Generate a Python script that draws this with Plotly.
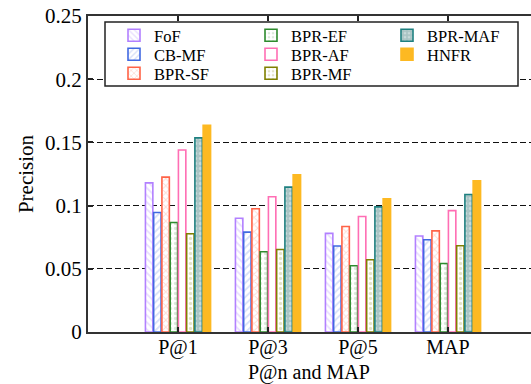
import plotly.graph_objects as go

categories = ["P@1", "P@3", "P@5", "MAP"]
methods = ["FoF", "CB-MF", "BPR-SF", "BPR-EF", "BPR-AF", "BPR-MF", "BPR-MAF", "HNFR"]

fof     = [0.118, 0.090, 0.078, 0.076]
cb_mf   = [0.0945, 0.079, 0.068, 0.073]
bpr_sf  = [0.1225, 0.0975, 0.0835, 0.080]
bpr_ef  = [0.0866, 0.0635, 0.0524, 0.0542]
bpr_af  = [0.144, 0.107, 0.0914, 0.096]
bpr_mf  = [0.0777, 0.0653, 0.0572, 0.0682]
bpr_maf = [0.1536, 0.1146, 0.099, 0.1088]
hnfr    = [0.1636, 0.1244, 0.1054, 0.1196]

series = [fof, cb_mf, bpr_sf, bpr_ef, bpr_af, bpr_mf, bpr_maf, hnfr]
y_ticks = [0, 0.05, 0.1, 0.15, 0.2, 0.25]
y_ticktext = ["0", "0.05", "0.1", "0.15", "0.2", "0.25"]

styles = [
    dict(line="#B280FF", shape="\\", fg="#D3C0FF", bg="white"),
    dict(line="#4169E1", shape="/", fg="#AFC0F2", bg="white"),
    dict(line="#FF6347", shape="x", fg="#FFB8A8", bg="white"),
    dict(line="#2E8B2E", shape=".", fg="#B5D6B5", bg="white"),
    dict(line="#FF6EB4", shape="", fg="white", bg="white"),
    dict(line="#808000", shape=".", fg="#C8C890", bg="white"),
    dict(line="#1E8080", shape=".", fg="#E8F0F0", bg="#A9C4C4"),
    dict(line="#FDB922", shape="", fg="#FDB922", bg="#FDB922"),
]

FONT = '"Liberation Serif", "Times New Roman", serif'
L, R, T, B = 88, 0, 16, 52
W, H = 531, 384
pw, ph = W - L - R, H - T - B

def px_x(p):
    return (p - L) / pw

def px_y(p):
    return 1 - (p - T) / ph

# legend slot positions (column x, row y) in pixels
col_x = [114, 251, 387]
row_y = [35.5, 54.5, 73.5]
slots = [(0, 0), (0, 1), (0, 2), (1, 0), (1, 1), (1, 2), (2, 0), (2, 1)]

x_pos = [1, 2, 3, 4]

fig = go.Figure()
legend_layout = {}
for i, (name, vals, st) in enumerate(zip(methods, series, styles)):
    lid = "legend" if i == 0 else f"legend{i + 1}"
    fig.add_trace(go.Bar(
        name=name, x=x_pos, y=vals,
        legend=lid,
        marker=dict(
            color=st["bg"],
            line=dict(color=st["line"], width=1.6),
            pattern=dict(shape=st["shape"], fgcolor=st["fg"], bgcolor=st["bg"],
                         size=5, solidity=0.35, fillmode="overlay") if st["shape"] else None,
        ),
    ))
    c, r = slots[i]
    legend_layout[lid] = dict(
        x=px_x(col_x[c]), y=px_y(row_y[r]), xanchor="left", yanchor="middle",
        bgcolor="rgba(0,0,0,0)", borderwidth=0,
        font=dict(family=FONT, size=16.5, color="black"), itemclick=False,
    )

fig.update_layout(
    width=W, height=H,
    margin=dict(l=L, r=R, t=T, b=B, pad=0),
    paper_bgcolor="white", plot_bgcolor="white",
    barmode="group", bargap=0.267, bargroupgap=0.1,
    showlegend=True,
    font=dict(family=FONT, color="black"),
    xaxis=dict(
        range=[0, (W - L) / 90.0],
        tickvals=x_pos, ticktext=categories,
        ticks="inside", ticklen=5, tickwidth=1.5, tickcolor="#222",
        showline=True, linecolor="#333", linewidth=2, mirror="ticks",
        showgrid=False, zeroline=False, ticklabelstandoff=-4,
        tickfont=dict(family=FONT, size=20, color="black"),
    ),
    yaxis=dict(
        range=[0, 0.25],
        tickvals=y_ticks, ticktext=y_ticktext,
        ticks="inside", ticklen=5, tickwidth=1.5, tickcolor="#222",
        showline=True, linecolor="#333", linewidth=2, mirror=False,
        showgrid=True, gridcolor="#111", gridwidth=1.2, griddash="6px,3px",
        zeroline=False,
        tickfont=dict(family=FONT, size=21, color="black"),
        title=dict(text="Precision", font=dict(family=FONT, size=21, color="black"), standoff=6),
    ),
    shapes=[dict(type="rect", xref="paper", yref="paper",
                 x0=px_x(105), x1=px_x(518), y0=px_y(86), y1=px_y(22),
                 line=dict(color="#222", width=1.5), fillcolor="white", layer="above")],
    annotations=[dict(text="P@n and MAP", xref="paper", yref="paper",
                      x=px_x(309), y=px_y(372), xanchor="center", yanchor="middle",
                      showarrow=False, font=dict(family=FONT, size=20, color="black"))],
)
fig.update_layout(legend_layout)

fig.write_html("out.html", config={"displayModeBar": False},
               post_script="document.body.style.margin='0';")
